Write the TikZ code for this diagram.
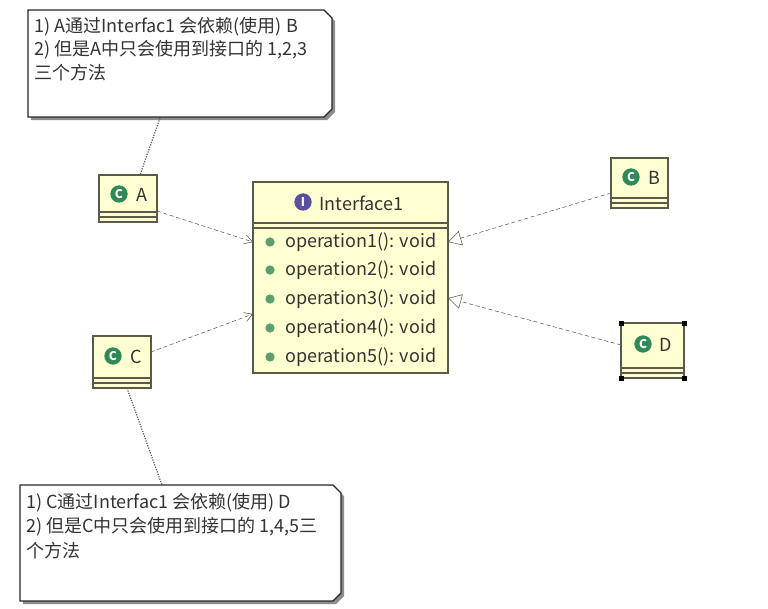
\documentclass[tikz,border=0pt]{standalone}
\usepackage{fontspec}
\setmainfont{Noto Sans CJK SC}
\usetikzlibrary{arrows.meta}
\definecolor{umlfill}{HTML}{FFFFD2}
\definecolor{umlline}{HTML}{5A5A46}
\definecolor{opgreen}{HTML}{5AA06E}
\definecolor{icongreen}{HTML}{2E8B57}
\definecolor{iconpurple}{HTML}{5A4FA0}
\tikzset{
  umlbox/.style={draw=umlline, fill=umlfill, line width=0.9pt},
  notebox/.style={draw=black!85, fill=white, line width=0.9pt},
  dep/.style={densely dashed, umlline, -{Straight Barb[length=6pt,width=7pt]}},
  impl/.style={densely dashed, umlline, -{Triangle[open,length=10pt,width=11pt]}},
  link/.style={densely dotted, umlline, line width=0.9pt},
  txt/.style={font=\fontsize{13.5}{15}\selectfont, text=black!80, inner sep=0pt, anchor=west},
  cicon/.style={circle, fill=icongreen, text=white, inner sep=0pt, minimum size=13pt, font=\bfseries\fontsize{9}{9}\selectfont},
  dot/.style={circle, fill=opgreen, inner sep=0pt, minimum size=7pt}
}
\newcommand{\umlclass}[5]{% name, x1, y1, x2, y2
  \draw[umlbox] (#2,#3) rectangle (#4,#5);
  \draw[umlline, line width=0.9pt] (#2,#5-10) -- (#4,#5-10) (#2,#5-5) -- (#4,#5-5);
}
\newcommand{\umlnote}[4]{% x1, y1, x2, y2
  \fill[black!45] (#1+3,#2+3) -- (#3-5,#2+3) -- (#3+3,#2+11) -- (#3+3,#4-5) -- (#3-5,#4+3) -- (#1+3,#4+3) -- cycle;
  \draw[notebox] (#1,#2) -- (#3-8,#2) -- (#3,#2+8) -- (#3,#4-8) -- (#3-8,#4) -- (#1,#4) -- cycle;
}
\begin{document}
\begin{tikzpicture}[x=0.75pt, y=-0.75pt]
  \useasboundingbox (0,0) rectangle (768,608);

  % Notes
  \umlnote{28}{10}{332}{117}
  \node[txt] (n1a) at (34,27) {1) A通过Interfac1 会依赖(使用) B};
  \node[txt] (n1b) at (34,50) {2) 但是A中只会使用到接口的 1,2,3};
  \node[txt] (n1c) at (34,73) {三个方法};
  \coordinate (n1) at (160,118);

  \umlnote{20}{485}{341}{601}
  \node[txt] (n2a) at (26,503) {1) C通过Interfac1 会依赖(使用) D};
  \node[txt] (n2b) at (26,527) {2) 但是C中只会使用到接口的 1,4,5三};
  \node[txt] (n2c) at (26,551) {个方法};
  \coordinate (n2) at (162,485);

  % Classes
  \umlclass{A}{99}{175}{157}{222}
  \node[cicon] (iA) at (119,194) {C};
  \node[txt] (A) at (136,195) {A};
  \umlclass{C}{93}{336}{151}{388}
  \node[cicon] (iC) at (113,356) {C};
  \node[txt] (C) at (130,357) {C};
  \umlclass{B}{611}{158}{668}{208}
  \node[cicon] (iB) at (631,177) {C};
  \node[txt] (B) at (648,178) {B};
  \umlclass{D}{621}{323}{684}{378}
  \node[cicon] (iD) at (643,344) {C};
  \node[txt] (D) at (659,345) {D};
  \foreach \hx/\hy in {621/323,684/323,621/378,684/378}
    \fill (\hx-2.5,\hy-2.5) rectangle (\hx+2.5,\hy+2.5);

  % Interface
  \draw[umlbox] (253,182) rectangle (448,373);
  \draw[umlline, line width=0.9pt] (253,223) -- (448,223) (253,228) -- (448,228);
  \node[circle, fill=iconpurple, text=white, inner sep=0pt, minimum size=13pt,
        font=\bfseries\fontsize{9}{9}\selectfont] (iI) at (303,202) {I};
  \node[txt] (I) at (319,203) {Interface1};
  \foreach \i/\y in {1/242,2/270,3/299,4/328,5/357} {
    \node[dot] (d\i) at (270,\y) {};
    \node[txt] (op\i) at (285,\y) {operation\i(): void};
  }

  % Connectors
  \coordinate (Aout) at (157,211);
  \coordinate (Cout) at (151,352);
  \coordinate (Bout) at (611,193);
  \coordinate (Dout) at (621,345);
  \coordinate (Ain) at (253,242);
  \coordinate (Cin) at (253,314);
  \coordinate (Bin) at (448,242);
  \coordinate (Din) at (448,298);
  \coordinate (Atop) at (140,175);
  \coordinate (Cbot) at (127,388);
  \draw[dep] (Aout) -- (Ain);
  \draw[dep] (Cout) -- (Cin);
  \draw[impl] (Bout) -- (Bin);
  \draw[impl] (Dout) -- (Din);
  \draw[link] (n1) -- (Atop);
  \draw[link] (Cbot) -- (n2);
\end{tikzpicture}
\end{document}
